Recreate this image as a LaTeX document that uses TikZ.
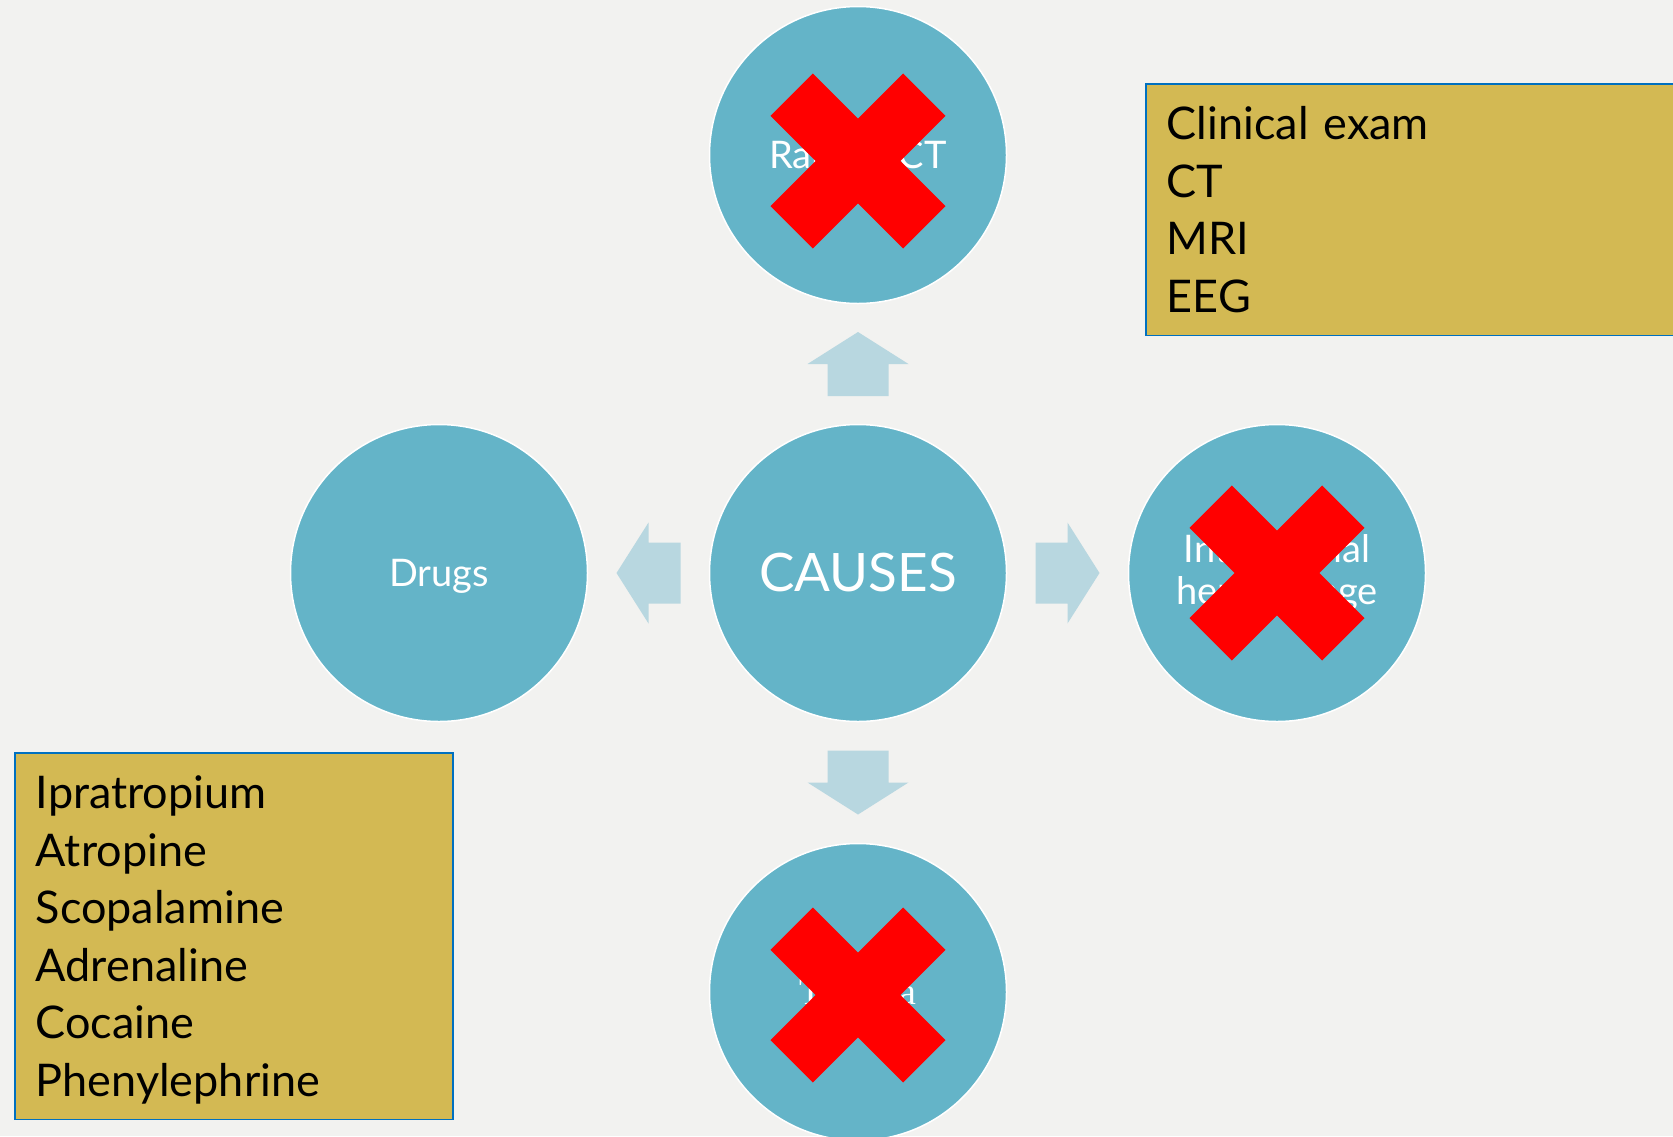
\documentclass[tikz,border=0pt]{standalone}
\usepackage{fontspec}
\setmainfont{Lato}
\newfontfamily\trfont{Liberation Serif}
\usetikzlibrary{calc}
\definecolor{bgcol}{HTML}{F2F2F0}
\definecolor{circfill}{HTML}{64B4C8}
\definecolor{arrowfill}{HTML}{B8D7E0}
\definecolor{boxfill}{HTML}{D3B953}
\definecolor{boxline}{HTML}{0070C0}
\definecolor{xred}{HTML}{FF0000}
\newcommand\circfont{\fontsize{38}{42}\selectfont}
\newcommand\hubfont{\fontsize{53}{60}\selectfont}
\newcommand\boxtextfont{\fontsize{45}{57.5}\selectfont}
\tikzset{
	bulb/.style={circle, fill=circfill, draw=white, line width=1.5pt, minimum size=297pt, inner sep=0pt, text=white, font=\circfont, align=center},
	flow/.style={fill=arrowfill},
	listbox/.style={fill=boxfill, draw=boxline, line width=1.5pt, anchor=north west, align=left, inner xsep=21pt, inner ysep=23pt, text height=33pt, font=\boxtextfont},
	nogo/.style={draw=xred, line width=60pt, line cap=butt},
}
\begin{document}
\begin{tikzpicture}[x=1pt, y=-1pt]
	\def\blockarrow#1#2{\fill[flow, shift={(#1)}, rotate=#2] (-32,-30.5) -- (0,-30.5) -- (0,-50.5) -- (32,0) -- (0,50.5) -- (0,30.5) -- (-32,30.5) -- cycle;}
	\def\nogox#1{\draw[nogo] ($(#1)+(-66.3,-66.3)$) -- ($(#1)+(66.3,66.3)$) ($(#1)+(-66.3,66.3)$) -- ($(#1)+(66.3,-66.3)$);}
	\useasboundingbox (0,0) rectangle (1673,1136);
	\fill[bgcol] (0,0) rectangle (1673,1136);
	\clip (0,0) rectangle (1673,1136);
	% circles
	\node[bulb, font=\hubfont] (cause) at (858,573) {CAUSES};
	\node[bulb] (ict) at (858,155) {Raised ICT};
	\node[bulb, text depth=0pt] (drugs) at (439,573) {Drugs};
	\node[bulb] (bleed) at (1277,573) {Intracranial\\hemorrhage};
	\node[bulb] (trauma) at (858,992) {\trfont Trauma};
	% block arrows
	\coordinate (upmid) at ($(cause)!.5!(ict)$);
	\coordinate (leftmid) at ($(cause)!.5!(drugs)$);
	\coordinate (rightmid) at ($(cause)!.5!(bleed)$);
	\coordinate (downmid) at ($(cause)!.5!(trauma)$);
	\blockarrow{upmid}{90}
	\blockarrow{leftmid}{180}
	\blockarrow{rightmid}{0}
	\blockarrow{downmid}{-90}
	% crossed out
	\coordinate (ictx) at ($(ict)+(0,6)$);
	\coordinate (traumax) at ($(trauma)+(0,3)$);
	\nogox{ictx}
	\nogox{bleed}
	\nogox{traumax}
	% lists
	\node[listbox, text width=520pt, text depth=172.5pt] (tests) at (1145,83) {Clinical exam\\CT\\MRI\\EEG};
	\node[listbox, text width=396pt, text depth=287.5pt] (druglist) at (14,752) {Ipratropium\\Atropine\\Scopalamine\\Adrenaline\\Cocaine\\Phenylephrine};
\end{tikzpicture}
\end{document}
